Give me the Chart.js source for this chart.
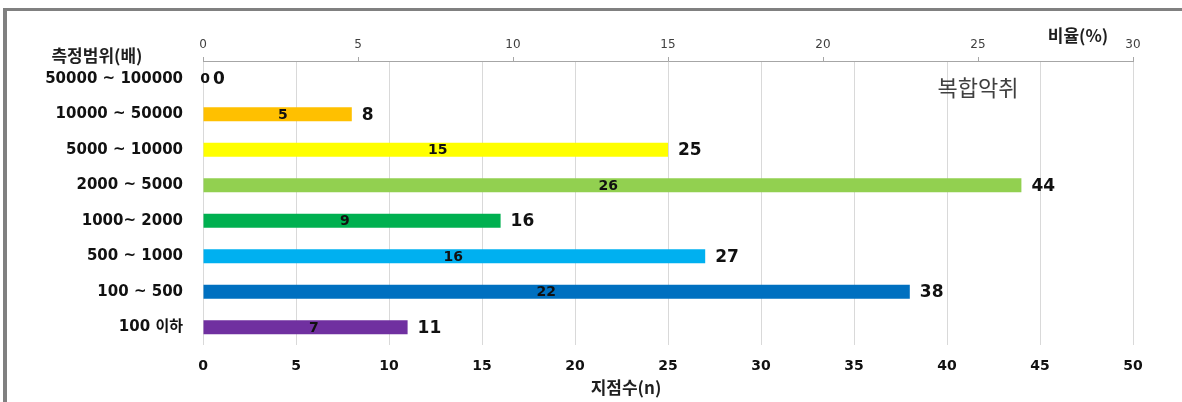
<!DOCTYPE html>
<html>
<head>
<meta charset="utf-8">
<script src="https://cdn.jsdelivr.net/npm/chart.js@4/dist/chart.umd.min.js"></script>
<style>
	html, body { margin: 0; padding: 0; background: #fff; }
	#wrap { position: relative; width: 1182px; height: 402px; }
</style>
</head>
<body>
<div id="wrap"><canvas id="odorChart" width="1182" height="402"></canvas></div>
<script>
// 측정범위별 지점수와 비율
const ranges = ['50000 ~ 100000', '10000 ~ 50000', '5000 ~ 10000', '2000 ~ 5000', '1000~ 2000', '500 ~ 1000', '100 ~ 500', '100 이하']
const siteCounts = [0, 8, 25, 44, 16, 27, 38, 11]
const sitePercents = [0, 5, 15, 26, 9, 16, 22, 7]
const barColors = ['#C00000', '#FFC000', '#FFFF00', '#92D050', '#00B050', '#00B0F0', '#0070C0', '#7030A0']

const countTicks = { min: 0, max: 50, step: 5 }
const percentTicks = { min: 0, max: 30, step: 5 }

const FONT = "'DejaVu Sans', 'Noto Sans CJK KR', sans-serif"
const KFONT = "'Noto Sans CJK KR', 'DejaVu Sans', sans-serif"

Chart.defaults.font.family = FONT

/**
 * 바깥 테두리와 제목 글자들
 */
const frameAndTitles = {
	id: 'frameAndTitles',
	beforeDraw(chart) {
		const ctx = chart.ctx
		ctx.save()
		ctx.fillStyle = '#ffffff'
		ctx.fillRect(0, 0, chart.width, chart.height)
		ctx.fillStyle = '#808080'
		ctx.fillRect(3, 8, chart.width - 3, 3)
		ctx.fillRect(3, 8, 4, chart.height - 8)
		ctx.restore()
	},
	afterDraw(chart) {
		const ctx = chart.ctx
		ctx.save()
		ctx.textAlign = 'center'
		ctx.textBaseline = 'middle'
		ctx.fillStyle = '#1f1f1f'
		ctx.font = `bold 17px ${KFONT}`
		ctx.fillText('측정범위(배)', 97, 56)
		ctx.fillText('비율(%)', 1078, 36)
		ctx.fillText('지점수(n)', 626, 388)
		ctx.fillStyle = '#404040'
		ctx.font = `22px ${KFONT}`
		ctx.fillText('복합악취', 978, 88)
		ctx.restore()
	}
}

/**
 * 막대 끝에는 지점수, 막대 안에는 비율
 */
const barLabels = {
	id: 'barLabels',
	afterDatasetsDraw(chart) {
		const ctx = chart.ctx
		const counts = chart.getDatasetMeta(0).data
		const percents = chart.getDatasetMeta(1).data
		ctx.save()
		ctx.textBaseline = 'middle'
		ctx.fillStyle = '#111111'

		ctx.textAlign = 'left'
		ctx.font = `bold 17px ${FONT}`
		counts.forEach((bar, i) => {
			ctx.fillText(String(siteCounts[i]), bar.x + 10, bar.y + 1)
		})

		ctx.textAlign = 'center'
		ctx.font = `bold 14px ${FONT}`
		percents.forEach((bar, i) => {
			ctx.fillText(String(sitePercents[i]), (bar.x + bar.base) / 2 + 2, bar.y + 1)
		})
		ctx.restore()
	}
}

new Chart(document.getElementById('odorChart'), {
	type: 'bar',
	data: {
		labels: ranges,
		datasets: [
			{
				label: '지점수',
				data: siteCounts,
				xAxisID: 'x',
				backgroundColor: barColors,
				grouped: false,
				categoryPercentage: 1,
				barPercentage: 0.4
			},
			{
				label: '비율',
				data: sitePercents,
				xAxisID: 'x2',
				backgroundColor: 'rgba(0,0,0,0)',
				grouped: false,
				categoryPercentage: 1,
				barPercentage: 0.4
			}
		]
	},
	options: {
		indexAxis: 'y',
		responsive: false,
		animation: false,
		layout: { padding: { left: 0, right: 49, top: 0, bottom: 0 } },
		plugins: {
			legend: { display: false },
			tooltip: { enabled: false }
		},
		scales: {
			y: {
				type: 'category',
				grid: { display: false, drawTicks: false },
				border: { display: false },
				ticks: {
					padding: 20,
					color: '#111111',
					font: { family: FONT, size: 15, weight: 'bold' }
				},
				afterFit: (scale) => { scale.width = 203 }
			},
			x: {
				type: 'linear',
				position: 'bottom',
				min: countTicks.min,
				max: countTicks.max,
				grid: { color: '#d9d9d9', drawTicks: false },
				border: { display: false },
				ticks: {
					stepSize: countTicks.step,
					padding: 13,
					color: '#111111',
					font: { family: FONT, size: 14, weight: 'bold' }
				},
				afterFit: (scale) => { scale.height = 57 }
			},
			x2: {
				type: 'linear',
				position: 'top',
				min: percentTicks.min,
				max: percentTicks.max,
				grid: { drawOnChartArea: false, drawTicks: true, tickLength: 4, color: '#a6a6a6' },
				border: { display: true, color: '#a6a6a6' },
				ticks: {
					stepSize: percentTicks.step,
					padding: 5,
					color: '#404040',
					font: { family: FONT, size: 12 }
				},
				afterFit: (scale) => { scale.height = 61 }
			}
		}
	},
	plugins: [frameAndTitles, barLabels]
})
</script>
</body>
</html>
